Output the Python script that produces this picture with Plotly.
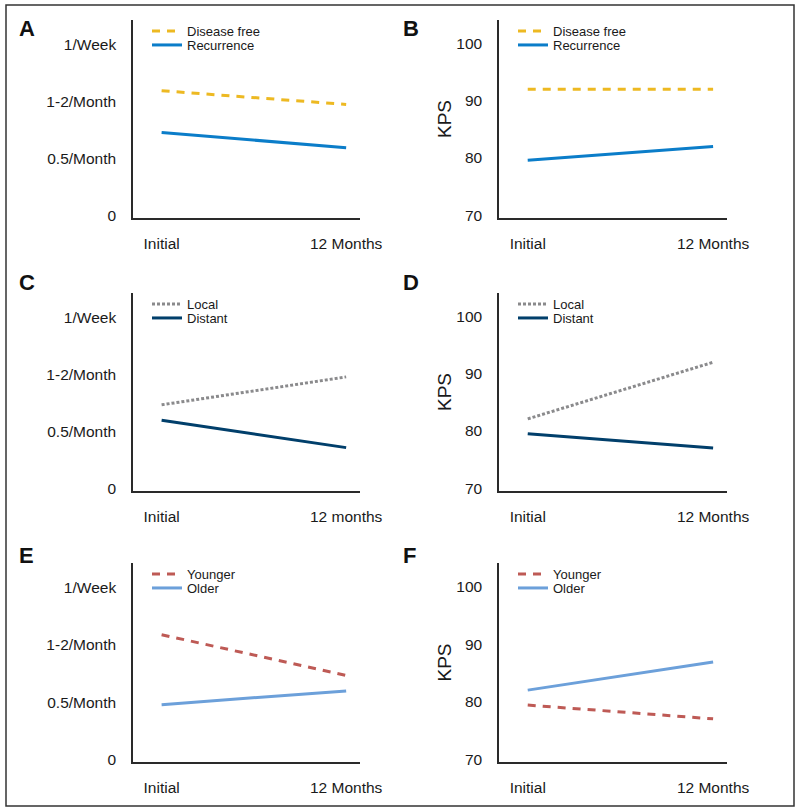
import plotly.graph_objects as go

# ---- data ----
categories = ["Initial", "12 Months"]
categories_c = ["Initial", "12 months"]
freq_tick_vals = [0, 1, 2, 3]
freq_tick_text = ["0", "0.5/Month", "1-2/Month", "1/Week"]
kps_tick_vals = [70, 80, 90, 100]

A_disease_free = [2.19, 1.95]
A_recurrence = [1.46, 1.19]
B_disease_free = [92, 92]
B_recurrence = [79.6, 82]
C_local = [1.47, 1.96]
C_distant = [1.2, 0.72]
D_local = [82.1, 92]
D_distant = [79.5, 77]
E_younger = [2.18, 1.47]
E_older = [0.96, 1.2]
F_younger = [79.4, 77]
F_older = [82, 86.9]

x_pos = [0, 1]

YELLOW = "#EDB922"
BLUE = "#0B7DC9"
GRAY = "#8A8A8C"
NAVY = "#013F6B"
RED = "#BE5A55"
LBLUE = "#6CA0DA"

FONT = "Liberation Sans, Arial, sans-serif"

fig = go.Figure()

H = 811.0
W = 800.0
rows = [(20, 218), (293, 491), (563, 762)]
cols = [(133, 360), (499, 727)]

panels = [
    ("A", 0, 0, "freq", categories,
     [("Disease free", A_disease_free, YELLOW, "8px,7px"), ("Recurrence", A_recurrence, BLUE, "solid")]),
    ("B", 0, 1, "kps", categories,
     [("Disease free", B_disease_free, YELLOW, "8px,7px"), ("Recurrence", B_recurrence, BLUE, "solid")]),
    ("C", 1, 0, "freq", categories_c,
     [("Local", C_local, GRAY, "3px,2px"), ("Distant", C_distant, NAVY, "solid")]),
    ("D", 1, 1, "kps", categories,
     [("Local", D_local, GRAY, "3px,2px"), ("Distant", D_distant, NAVY, "solid")]),
    ("E", 2, 0, "freq", categories,
     [("Younger", E_younger, RED, "8px,7px"), ("Older", E_older, LBLUE, "solid")]),
    ("F", 2, 1, "kps", categories,
     [("Younger", F_younger, RED, "8px,7px"), ("Older", F_older, LBLUE, "solid")]),
]

annotations = []
legend_count = 0
for i, (letter, r, c, kind, cats, series) in enumerate(panels):
    n = i + 1
    xa = "x" if n == 1 else f"x{n}"
    ya = "y" if n == 1 else f"y{n}"
    top, bot = rows[r]
    left, right = cols[c]
    dom_x = [left / W, right / W]
    dom_y = [1 - bot / H, 1 - top / H]
    for k, (name, vals, color, dash) in enumerate(series):
        legend_count += 1
        lg = "legend" if legend_count == 1 else f"legend{legend_count}"
        fig.add_trace(go.Scatter(
            x=x_pos, y=vals, mode="lines", name=name,
            line=dict(color=color, width=3, dash=dash),
            xaxis=xa, yaxis=ya, legend=lg, hoverinfo="skip"))
        fig.layout[lg] = dict(
            x=(left + 14) / W, y=1 - (top + 11 + 14 * k) / H,
            xanchor="left", yanchor="middle",
            bgcolor="rgba(0,0,0,0)", borderwidth=0,
            font=dict(family=FONT, size=13, color="#1a1a1a"),
            itemwidth=30)
    xkey = "xaxis" if n == 1 else f"xaxis{n}"
    ykey = "yaxis" if n == 1 else f"yaxis{n}"
    fig.layout[xkey] = dict(
        domain=dom_x, anchor=ya, range=[-0.155, 1.075], automargin=False,
        tickvals=x_pos, ticktext=cats, ticks="outside", ticklen=11,
        tickcolor="rgba(0,0,0,0)", showgrid=False, zeroline=False,
        showline=True, linecolor="#2a2a2a", linewidth=1.5,
        tickfont=dict(family=FONT, size=15.5, color="#1a1a1a"), fixedrange=True)
    if kind == "freq":
        ydict = dict(range=[-0.04, 3.43], tickvals=freq_tick_vals, ticktext=freq_tick_text)
    else:
        ydict = dict(range=[69.5, 104.1], tickvals=kps_tick_vals,
                     ticktext=[str(v) for v in kps_tick_vals],
                     title=dict(text="KPS", standoff=0,
                                font=dict(family=FONT, size=19, color="#1a1a1a")))
    ydict.update(dict(
        domain=dom_y, anchor=xa, ticks="outside", ticklen=12, automargin=False,
        tickcolor="rgba(0,0,0,0)", showgrid=False, zeroline=False,
        showline=True, linecolor="#2a2a2a", linewidth=1.5,
        tickfont=dict(family=FONT, size=15.5, color="#1a1a1a"), fixedrange=True))
    fig.layout[ykey] = ydict
    lx = 17 if c == 0 else 401
    ly = [28, 282, 555][r]
    annotations.append(dict(
        text=f"<b>{letter}</b>", x=lx / W, y=1 - ly / H, xref="paper", yref="paper",
        xanchor="left", yanchor="middle", showarrow=False,
        font=dict(family=FONT, size=22, color="#111111")))

fig.update_layout(
    width=800, height=811, autosize=False,
    margin=dict(l=0, r=0, t=0, b=0, pad=0, autoexpand=False),
    paper_bgcolor="white", plot_bgcolor="white",
    showlegend=True,
    annotations=annotations,
    shapes=[dict(type="rect", xref="paper", yref="paper",
                 x0=6 / W, x1=794 / W, y0=1 - 806 / H, y1=1 - 5 / H,
                 line=dict(color="#333333", width=1.5), fillcolor="rgba(0,0,0,0)")],
)

fig.write_html("out.html",
               config={"displayModeBar": False, "responsive": False},
               post_script="document.body.style.margin='0';document.body.style.overflow='hidden';")
